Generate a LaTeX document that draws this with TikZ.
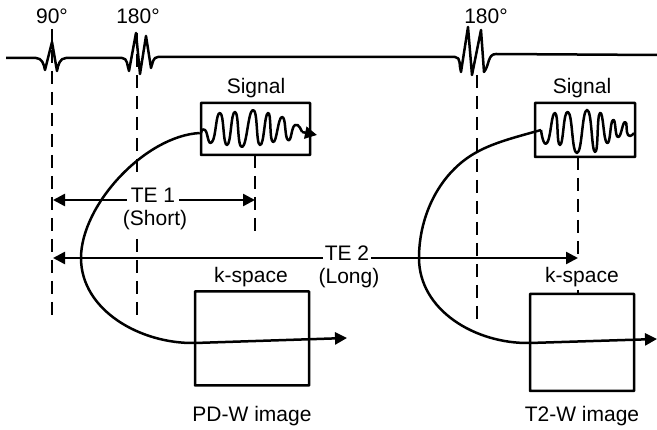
\documentclass[tikz,border=0pt]{standalone}
\usepackage{fontspec}
\setmainfont{Liberation Sans}
\usetikzlibrary{arrows.meta}
\tikzset{
    wave/.style={line width=2.5pt, line join=round},
    echoline/.style={line width=2.5pt, dash pattern=on 13pt off 8pt},
    tearrow/.style={line width=2.5pt, -{Triangle[length=12pt,width=12pt]}},
    framebox/.style={draw, line width=2.5pt, rounded corners=0.5pt, inner sep=0pt},
    tag/.style={font=\fontsize{21}{23}\selectfont, inner sep=0pt}
}
\begin{document}
\begin{tikzpicture}[x=1pt, y=-1pt]
    \useasboundingbox (0,0) rectangle (657,430);

    % RF pulses
    \draw[wave] (6,58) -- (36,58) to[out=0,in=100] (45,70) -- (52,42) -- (57,71) to[out=80,in=180] (66,58)
        -- (122,58) to[out=0,in=110] (129,71) -- (136,33) -- (140,74) -- (146,36) -- (151,68) to[out=70,in=180] (158,57)
        -- (455,57) to[out=0,in=110] (461,72) -- (468,27) -- (472,75) -- (477,50) -- (481,30) -- (484,72) to[out=50,in=180] (496,54)
        -- (657,55);

    % Flip angles
    \node[tag] (flipA) at (52,16) {90°};
    \node[tag] (flipB) at (138,16) {180°};
    \node[tag] (flipC) at (486,16) {180°};

    % Signal boxes
    \node[framebox, minimum width=109pt, minimum height=52pt] (sigA) at (255.5,129) {};
    \node[framebox, minimum width=100pt, minimum height=54pt] (sigB) at (585,130) {};
    \node[tag] (sigtextA) at (256,88) {Signal};
    \node[tag] (sigtextB) at (582,88) {Signal};

    % k-space boxes
    \node[framebox, minimum width=114pt, minimum height=94pt] (kboxA) at (252,338.5) {};
    \node[framebox, minimum width=104pt, minimum height=97pt] (kboxB) at (582,342.5) {};
    \node[tag] (ktextA) at (251,277) {k-space};
    \node[tag] (ktextB) at (582,277) {k-space};

    % Image names
    \node[tag] (imgA) at (252,416) {PD-W image};
    \node[tag] (imgB) at (582,416) {T2-W image};

    % Echo time labels
    \node[tag] (teA) at (153,195) {TE 1};
    \node[tag] (shortA) at (155,220) {(Short)};
    \node[tag] (teB) at (347,253) {TE 2};
    \node[tag] (longB) at (349,278) {(Long)};

    % Dashed timing lines
    \coordinate (pulseA) at (52,29);
    \coordinate (pulseB) at (137,33);
    \coordinate (pulseC) at (477,75);
    \coordinate (endA) at (52,320);
    \coordinate (midB) at (137,176);
    \coordinate (restB) at (137,239);
    \coordinate (endB) at (137,316);
    \coordinate (endC) at (477,322);
    \coordinate (echoA) at (255,155);
    \coordinate (echoB) at (578,157);
    \coordinate (stopA) at (255,232);
    \coordinate (stopB) at (578,257);
    \draw[echoline] (pulseA) -- (endA);
    \draw[echoline] (pulseB) -- (midB);
    \draw[echoline] (restB) -- (endB);
    \draw[echoline] (pulseC) -- (endC);
    \draw[echoline] (echoA) -- (stopA);
    \draw[echoline] (echoB) -- (stopB);

    % TE arrows
    \coordinate (leftA) at (53,200);
    \coordinate (rightA) at (255,200);
    \coordinate (leftB) at (53,258);
    \coordinate (rightB) at (578,258);
    \draw[tearrow, shorten <=4pt] (teA.west |- leftA) -- (leftA);
    \draw[tearrow, shorten <=4pt] (teA.east |- rightA) -- (rightA);
    \draw[tearrow, shorten <=2pt] (teB.west |- leftB) -- (leftB);
    \draw[tearrow, shorten <=2pt] (teB.east |- rightB) -- (rightB);

    % Read-out curves into k-space
    \coordinate (outA) at (347,338);
    \coordinate (outB) at (657,339);
    \draw[tearrow] (sigA.west |- 0,133) .. controls (145,136) and (81,205) .. (81,258)
        .. controls (81,310) and (140,344) .. (195,343) -- (outA);
    \draw[tearrow] (541,130) .. controls (520,136) and (495,142) .. (477,152)
        .. controls (440,172) and (419,215) .. (419,258)
        .. controls (419,310) and (475,344) .. (530,343) -- (outB);

    % Echo signals
    \draw[wave] plot[smooth, tension=1] coordinates {(201,133) (205,130) (212,142) (220,113) (227,145) (235,112) (242,147) (253,110) (260,145) (268,113) (273,142) (282,117) (288,140) (295,125) (302,132)};
    \draw[wave, -{Triangle[length=12pt,width=12pt]}] (302,132) -- (317,135);
    \draw[wave] plot[smooth, tension=1] coordinates {(541,130) (547,143) (555,113) (560,145) (568,112) (577,153) (587,110) (595,152) (600,113) (607,143) (613,120) (618,137) (625,122) (628,135) (634,133)};

    % Tick above k-space box
    \coordinate (tickB) at (578,290);
    \draw[line width=1.5pt] (tickB) -- (kboxB.north -| tickB);
\end{tikzpicture}
\end{document}
